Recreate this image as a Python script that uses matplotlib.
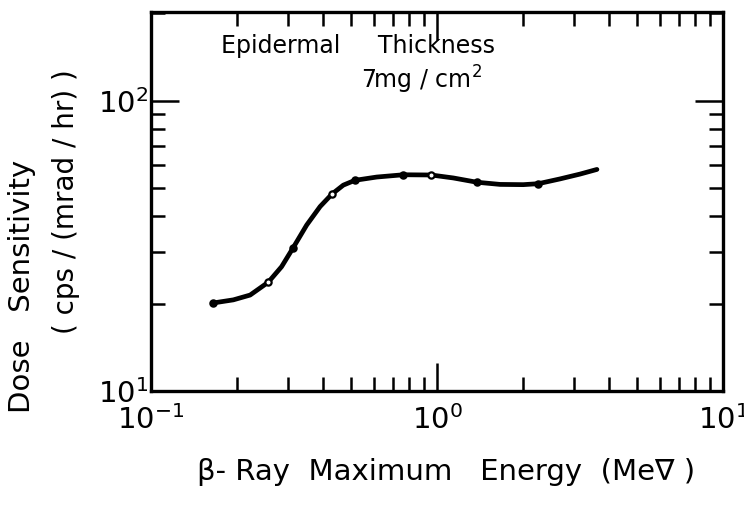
import matplotlib
matplotlib.use("Agg")
import matplotlib.pyplot as plt
from matplotlib.ticker import LogLocator, NullFormatter, FixedLocator

# Measured sensitivity points (beta max energy in MeV, cps per mrad/hr)
energy_pts = [0.165, 0.257, 0.313, 0.429, 0.516, 0.762, 0.953, 1.377, 2.26]
sens_pts = [20.1, 23.7, 31.0, 47.7, 53.2, 55.6, 55.5, 52.4, 51.8]
open_marker = [False, True, False, True, False, False, True, False, False]

# Hand-drawn smooth curve through the measurements
curve_energy = [0.165, 0.194, 0.222, 0.257, 0.286, 0.313, 0.350, 0.390, 0.429,
                0.470, 0.516, 0.615, 0.762, 0.953, 1.14, 1.377, 1.66, 2.00,
                2.26, 2.69, 3.16, 3.62]
curve_sens = [20.1, 20.6, 21.4, 23.7, 26.8, 31.0, 37.3, 43.2, 47.7,
              51.2, 53.2, 54.6, 55.6, 55.5, 54.2, 52.4, 51.5, 51.4,
              51.8, 53.8, 55.9, 58.0]

x_ticks = [0.1, 1, 10]
x_ticklabels = [r"$10^{-1}$", r"$10^{0}$", r"$10^{1}$"]
y_ticks = [10, 100]
y_ticklabels = [r"$10^{1}$", r"$10^{2}$"]

plt.rcParams['font.family'] = ['Liberation Sans Narrow', 'DejaVu Sans']
plt.rcParams['mathtext.fontset'] = 'dejavusans'

fig = plt.figure(figsize=(7.44, 5.09), dpi=100)
ax = fig.add_axes([0.203, 0.232, 0.769, 0.744])
ax.set_xscale('log')
ax.set_yscale('log')
ax.set_xlim(0.1, 10)
ax.set_ylim(10, 202)

ax.plot(curve_energy, curve_sens, color='black', lw=3.4, solid_capstyle='round',
        solid_joinstyle='round')
for e, s, o in zip(energy_pts, sens_pts, open_marker):
    ax.plot([e], [s], marker='o', ms=4.5, mew=1.6, mec='black',
            mfc='white' if o else 'black', ls='none')

for sp in ax.spines.values():
    sp.set_linewidth(2.4)

ax.xaxis.set_major_locator(FixedLocator(x_ticks))
ax.yaxis.set_major_locator(FixedLocator(y_ticks))
ax.xaxis.set_minor_locator(LogLocator(base=10, subs=range(2, 10), numticks=20))
ax.yaxis.set_minor_locator(LogLocator(base=10, subs=range(2, 10), numticks=20))
ax.xaxis.set_minor_formatter(NullFormatter())
ax.yaxis.set_minor_formatter(NullFormatter())
ax.set_xticklabels(x_ticklabels)
ax.set_yticklabels(y_ticklabels)

ax.tick_params(which='both', direction='in', top=True, right=True, width=1.8)
ax.tick_params(which='major', length=20, labelsize=21)
ax.tick_params(which='minor', length=10)
ax.tick_params(axis='x', which='major', pad=10)
ax.tick_params(axis='y', which='major', pad=2)

ax.text(0.362, 0.910, "Epidermal     Thickness", transform=ax.transAxes,
        ha='center', va='center', fontsize=17)
ax.text(0.472, 0.822, r"7mg / cm$^{2}$", transform=ax.transAxes,
        ha='center', va='center', fontsize=17)

fig.text(22 / 744, 1 - 286 / 509, "Dose   Sensitivity", rotation=90,
         ha='center', va='center', fontsize=21)
fig.text(66 / 744, 1 - 202 / 509, "( cps / (mrad / hr) )", rotation=90,
         ha='center', va='center', fontsize=20)
fig.text(446 / 744, 1 - 472 / 509, "\u03b2- Ray  Maximum   Energy  (Me\u2207 )",
         ha='center', va='center', fontsize=21)

fig.savefig("out.png", dpi=100)
